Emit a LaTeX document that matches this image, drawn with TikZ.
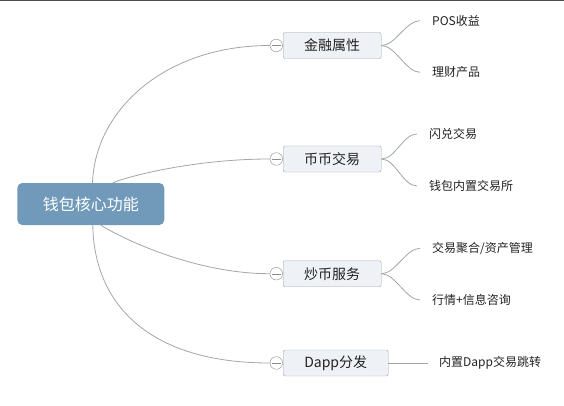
\documentclass[tikz,border=0pt]{standalone}
\usepackage{fontspec}
\newfontfamily\cjk{Noto Sans CJK SC}
\usepackage{xcolor}
\usepackage{tikz}
\usetikzlibrary{positioning,calc}
\definecolor{rootblue}{HTML}{7099BA}
\definecolor{boxfill}{HTML}{EEF2F7}
\definecolor{boxline}{HTML}{9AA4AD}
\definecolor{linegray}{HTML}{A0A6AC}
\definecolor{textdark}{HTML}{222222}

\begin{document}
\begin{tikzpicture}[x=1pt,y=-1pt,
    rootbox/.style={fill=rootblue,rounded corners=5pt,minimum width=147pt,minimum height=42pt,text=white,font=\cjk\fontsize{16}{18}\selectfont},
    topic/.style={draw=boxline,fill=boxfill,rounded corners=2pt,minimum width=98pt,minimum height=26pt,anchor=west,text=textdark,font=\cjk\fontsize{14}{16}\selectfont},
    fold/.style={circle,draw=gray!90,fill=white,minimum size=12.6pt,inner sep=0pt,
        path picture={\draw[gray!90] ([xshift=-4.5pt]path picture bounding box.center) -- ([xshift=4.5pt]path picture bounding box.center);}},
    leaf/.style={anchor=west,inner xsep=12pt,inner ysep=0pt,text=textdark,font=\cjk\fontsize{12}{14}\selectfont},
    wire/.style={draw=linegray,line width=0.8pt}]
    \useasboundingbox (0,0) rectangle (564,406);
    \draw[line width=1.5pt,color=black!70] (0,0.75) -- (564,0.75);

    % Root
    \node[rootbox] (core) at (90.8,204) {钱包核心功能};

    % Main topics
    \node[topic] (fin) at (283,45.5) {金融属性};
    \node[topic] (swap) at (283,159) {币币交易};
    \node[topic] (trade) at (283,273.7) {炒币服务};
    \node[topic,minimum width=105pt] (dapp) at (283,363) {Dapp分发};

    % Collapse markers
    \node[fold] (mFin) at (276.3,45.5) {};
    \node[fold] (mSwap) at (276.3,159) {};
    \node[fold] (mTrade) at (276.3,273.7) {};
    \node[fold] (mDapp) at (276.3,363) {};

    % Subtopics
    \node[leaf] (pos) at (420,20.7) {POS收益};
    \node[leaf] (lc) at (420,72.3) {理财产品};
    \node[leaf] (flash) at (417,134) {闪兑交易};
    \node[leaf] (exch) at (417,186) {钱包内置交易所};
    \node[leaf] (agg) at (420,248.3) {交易聚合/资产管理};
    \node[leaf] (info) at (420,300) {行情+信息咨询};
    \node[leaf,inner xsep=11pt] (jump) at (428,363) {内置Dapp交易跳转};

    % Root to topics
    \draw[wire] ([xshift=1.7pt]core.north) .. controls (95,110) and (165,45.5) .. (mFin.west);
    \draw[wire] ([xshift=22pt]core.north) .. controls (135,174) and (200,159) .. (mSwap.west);
    \draw[wire] ([xshift=10pt]core.south) .. controls (130,243) and (200,273.7) .. (mTrade.west);
    \draw[wire] ([xshift=2pt]core.south) .. controls (94,305) and (150,363) .. (mDapp.west);

    % Topics to subtopics
    \draw[wire] (fin.east) .. controls +(14,0) and +(-14,0) .. (pos.west);
    \draw[wire] (fin.east) .. controls +(14,0) and +(-14,0) .. (lc.west);
    \draw[wire] (swap.east) .. controls +(14,0) and +(-14,0) .. (flash.west);
    \draw[wire] (swap.east) .. controls +(14,0) and +(-14,0) .. (exch.west);
    \draw[wire] (trade.east) .. controls +(14,0) and +(-14,0) .. (agg.west);
    \draw[wire] (trade.east) .. controls +(14,0) and +(-14,0) .. (info.west);
    \draw[wire] (dapp.east) -- (jump.west);
\end{tikzpicture}
\end{document}
